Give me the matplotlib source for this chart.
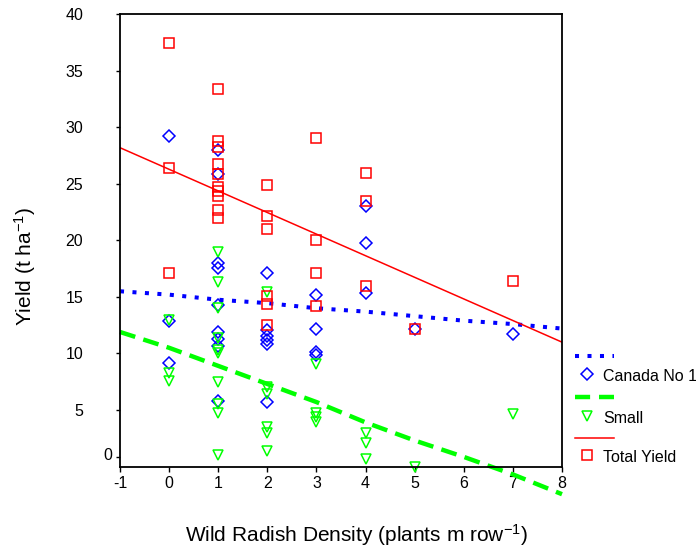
import matplotlib
matplotlib.use('Agg')
import matplotlib.pyplot as plt
from matplotlib.lines import Line2D

plt.rcParams['font.family'] = ['Liberation Sans', 'DejaVu Sans']
plt.rcParams['mathtext.fontset'] = 'custom'
plt.rcParams['mathtext.rm'] = 'Liberation Sans'
plt.rcParams['mathtext.it'] = 'Liberation Sans:italic'
plt.rcParams['mathtext.default'] = 'regular'
plt.rcParams['axes.unicode_minus'] = False

# Canada No 1 yield (t/ha) vs wild radish density
canada_x = [0, 0, 0,
            1, 1, 1, 1, 1, 1, 1, 1, 1,
            2, 2, 2, 2, 2, 2,
            3, 3, 3, 3,
            4, 4, 4,
            5, 7]
canada_y = [29.2, 12.9, 9.15,
            28.0, 25.9, 18.0, 17.6, 14.3, 11.9, 11.3, 10.7, 5.8,
            17.1, 12.05, 11.5, 11.2, 10.8, 5.7,
            15.2, 12.2, 10.1, 9.9,
            23.05, 19.8, 15.35,
            12.2, 11.7]

# small grade yield
small_x = [0, 0, 0,
           1, 1, 1, 1, 1, 1, 1, 1, 1, 1,
           2, 2, 2, 2, 2, 2,
           3, 3, 3, 3,
           4, 4, 4,
           5, 7]
small_y = [13.0, 8.3, 7.6,
           19.0, 16.3, 14.05, 11.4, 10.3, 10.0, 7.5, 5.55, 4.7, 1.0,
           15.4, 7.0, 6.4, 3.5, 3.0, 1.4,
           9.1, 4.7, 4.4, 3.9,
           3.0, 2.1, 0.7,
           0.0, 4.6]

# total yield
total_x = [0, 0, 0,
           1, 1, 1, 1, 1, 1, 1, 1, 1, 1,
           2, 2, 2, 2, 2, 2,
           3, 3, 3, 3,
           4, 4, 4,
           5, 7]
total_y = [37.5, 26.4, 17.1,
           33.4, 28.8, 28.3, 26.8, 25.9, 24.7, 24.4, 23.9, 22.7, 22.0,
           24.9, 22.2, 21.0, 15.1, 14.4, 12.5,
           29.05, 20.0, 17.1, 14.2,
           26.0, 23.5, 16.0,
           12.2, 16.4]

# fitted curves
fit_x = [-1, 0, 1, 2, 3, 4, 5, 6, 7, 8]
canada_fit = [15.5, 15.2, 14.75, 14.45, 14.0, 13.7, 13.3, 12.9, 12.6, 12.2]
small_fit = [11.9, 10.5, 8.9, 7.3, 5.7, 3.9, 2.3, 0.85, -0.7, -2.45]
total_fit_x = [-1, 8]
total_fit = [28.2, 11.0]

x_ticks = [-1, 0, 1, 2, 3, 4, 5, 6, 7, 8]
y_ticks = [0.8, 5, 10, 15, 20, 25, 30, 35, 40]
y_labels = ['', '5', '10', '15', '20', '25', '30', '35', '40']

W, H = 696, 548
blue, green, red = '#0000ff', '#00ff00', '#ff0000'

fig = plt.figure(figsize=(W / 100, H / 100), dpi=100)
ax = fig.add_axes([120 / W, 1 - 466.5 / H, 442 / W, 452.2 / H])

ax.plot(fit_x, canada_fit, color=blue, lw=2.9, linestyle=(0, (1, 2.1)))
ax.plot(fit_x, small_fit, color=green, lw=3.2, linestyle=(0, (3.6, 1.9)), clip_on=False)
ax.plot(total_fit_x, total_fit, color=red, lw=1.1)

mk = dict(linestyle='none', mfc='none', mew=1.1, clip_on=False)
ax.plot(canada_x, canada_y, marker='D', ms=6.5, mec=blue, **mk)
ax.plot(small_x, small_y, marker='v', ms=7.5, mec=green, **mk)
ax.plot(total_x, total_y, marker='s', ms=6.8, mec=red, **mk)

ax.set_xlim(-1, 8)
ax.set_ylim(0, 40)
ax.set_xticks(x_ticks)
ax.set_yticks(y_ticks)
ax.set_yticklabels(y_labels)
ax.tick_params(axis='x', direction='out', length=3.5, width=1, labelsize=11.5, pad=3)
ax.tick_params(axis='y', direction='out', length=3, width=1, labelsize=11.5, pad=23.5)
ax.text(-0.018, 0.93, '0', transform=ax.get_yaxis_transform(), ha='right', va='center', fontsize=11.5)
for s in ax.spines.values():
    s.set_linewidth(1.3)

fig.text(356 / W, 1 - 542 / H, 'Wild Radish Density (plants m row$^{-1}$)',
         ha='center', va='baseline', fontsize=15)
fig.text(31.7 / W, 1 - 266.3 / H, 'Yield (t ha$^{-1}$)', rotation=90,
         ha='center', va='baseline', rotation_mode='anchor', fontsize=15)

# legend drawn by hand, SigmaPlot style
def fx(px):
    return px / W

def fy(py):
    return 1 - py / H

rows = [
    (355.7, dict(color=blue, lw=2.9, linestyle=(0, (1, 2.1)))),
    (396.7, dict(color=green, lw=3.2, linestyle=(0, (3.4, 2.0)))),
    (437.7, dict(color=red, lw=1.1)),
]
for py, st in rows:
    fig.add_artist(Line2D([fx(575), fx(614)], [fy(py), fy(py)], transform=fig.transFigure, **st))

entries = [
    (374, 380.7, 'D', 6.5, blue, 'Canada No 1'),
    (416, 422.7, 'v', 7.5, green, 'Small'),
    (455, 461.7, 's', 6.8, red, 'Total Yield'),
]
for my, base, m, ms, c, lab in entries:
    fig.add_artist(Line2D([fx(587)], [fy(my)], transform=fig.transFigure, marker=m, ms=ms,
                          mfc='none', mec=c, mew=1.1, linestyle='none'))
    fig.text(fx(603), fy(base), lab, ha='left', va='baseline', fontsize=11.5)

fig.savefig('out.png', dpi=100)
